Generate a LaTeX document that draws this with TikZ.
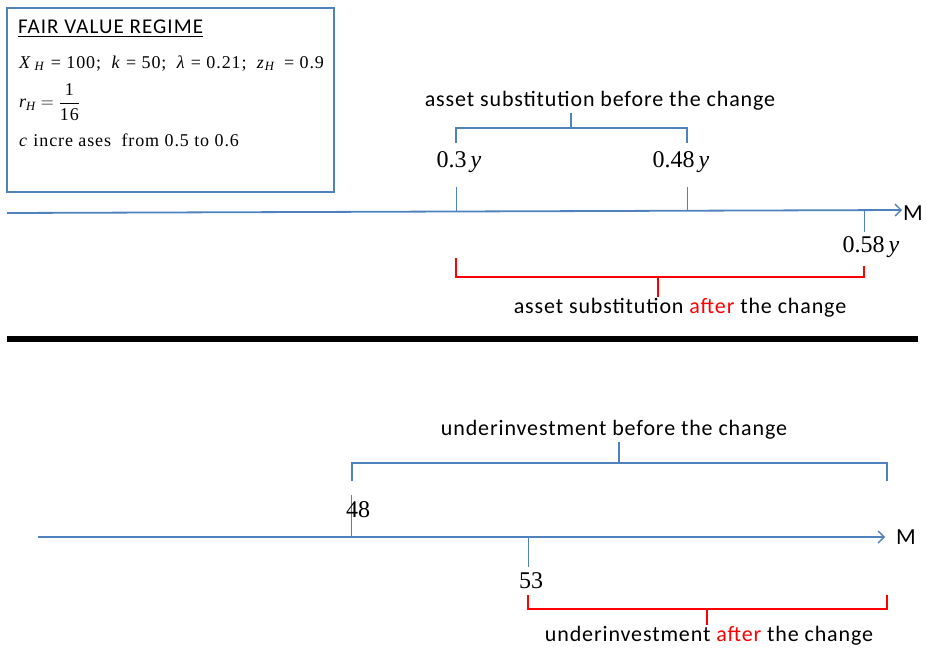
\RequirePackage{fix-cm}
\documentclass[tikz,border=0pt]{standalone}
\usepackage{amsmath}
\usepackage{fontspec}
\setmainfont{Liberation Serif}
\newfontfamily\calib[LetterSpace=4]{Carlito}
\newfontfamily\calibt[LetterSpace=5]{Carlito}
\newfontfamily\calibm{Carlito}
\newfontfamily\timesw[LetterSpace=5]{Liberation Serif}
\usepackage{tikz}
\usetikzlibrary{positioning,arrows.meta}
\definecolor{axisblue}{RGB}{79,129,189}
\tikzset{
  axisline/.style={axisblue, line width=1.4pt, -{Straight Barb[length=6pt,width=12pt,line width=1.4pt]}},
  tickline/.style={axisblue, line width=0.8pt},
  bluebrace/.style={axisblue, line width=2pt},
  redbrace/.style={red, line width=2pt},
  lbl/.style={font=\calib\fontsize{22}{26}\selectfont, inner sep=0pt},
  axlbl/.style={font=\calibm\fontsize{23}{27}\selectfont, inner sep=0pt, anchor=west},
  num/.style={font=\fontsize{24}{28}\selectfont, inner sep=0pt},
  parline/.style={font=\timesw\fontsize{18}{21}\selectfont, inner sep=0pt, anchor=base west},
}

\begin{document}
\begin{tikzpicture}[x=1pt,y=-1pt]
    \useasboundingbox (0,0) rectangle (927,648);
    % parameter box
    \draw[axisblue, line width=1.2pt] (7,8) rectangle (334,192);
    \node[anchor=base west, inner sep=0pt, font=\calibt\fontsize{21}{25}\selectfont] (title) at (18,33) {\underline{FAIR VALUE REGIME}};
    \node[parline] (params) at (19,68) {\textit{X}\,\textsubscript{\textit{H}} = 100;\; \textit{k} = 50;\; \textit{λ} = 0.21;\; \textit{z}\textsubscript{\textit{H}} \,= 0.9};
    \node[parline, anchor=west] (rate) at (19,102) {$\textit{r}_{\textit{H}} = \dfrac{\text{1}}{\text{16}}$};
    \node[parline] (cinc) at (19,146) {\textit{c} incre ases\; from 0.5 to 0.6};

    % upper axis
    \coordinate (ua) at (7,213);
    \coordinate (ub) at (902,210);
    \draw[axisline, line width=1.8pt] (ua) -- (ub);
    \node[axlbl] (uM) at (903,213) {M};
    \draw[tickline] (456,187) -- (456,211);
    \draw[tickline] (687,187) -- (687,210);
    \draw[tickline] (864,210) -- (864,232);
    \node[num] (ya) at (459,162) {0.3\,\textit{y}};
    \node[num] (yb) at (681,162) {0.48\,\textit{y}};
    \node[num] (yc) at (871,247) {0.58\,\textit{y}};

    % blue bracket, before
    \draw[bluebrace] (456,143) -- (456,128) -- (687,128) -- (687,143);
    \draw[bluebrace] (571,128) -- (571,113);
    \node[lbl] (asbefore) at (600,101) {asset substitution before the change};

    % red bracket, after
    \draw[redbrace] (456,258) -- (456,277) -- (864,277) -- (864,266);
    \draw[redbrace] (658,277) -- (658,297);
    \node[lbl] (asafter) at (680,308) {asset substitution \textcolor{red}{after} the change};

    % separator
    \draw[black, line width=6pt] (7,339) -- (918,339);

    % lower axis
    \coordinate (la) at (38,537);
    \coordinate (lb) at (885,537);
    \draw[axisline] (la) -- (lb);
    \node[axlbl] (lM) at (896,537) {M};
    \draw[tickline] (351,537) -- (351,495);
    \draw[tickline] (528,537) -- (528,567);
    \node[num] (va) at (358,510) {48};
    \node[num] (vb) at (531,581) {53};

    % blue bracket, before
    \draw[bluebrace] (352,481) -- (352,463) -- (887,463) -- (887,481);
    \draw[bluebrace] (619,463) -- (619,442);
    \node[lbl] (uibefore) at (614,430) {underinvestment before the change};

    % red bracket, after
    \draw[redbrace] (528,595) -- (528,609) -- (887,609) -- (887,595);
    \draw[redbrace] (707,609) -- (707,625);
    \node[lbl] (uiafter) at (709,636) {underinvestment \textcolor{red}{after} the change};
\end{tikzpicture}
\end{document}
